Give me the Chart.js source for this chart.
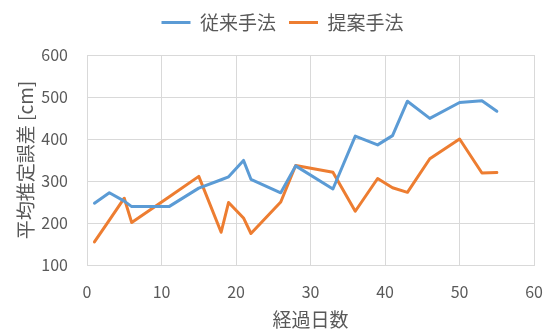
<!DOCTYPE html>
<html>
<head>
<meta charset="utf-8">
<script src="https://cdn.jsdelivr.net/npm/chart.js@4/dist/chart.umd.min.js"></script>
<style>
  html, body { margin: 0; padding: 0; background: #fff; }
  #c { display: block; }
</style>
</head>
<body>
<canvas id="c" width="560" height="329"></canvas>
<script>
// Elapsed days at which the error was measured
const days = [1, 3, 5, 6, 11, 15, 18, 19, 21, 22, 26, 28, 33, 36, 39, 41, 43, 46, 50, 53, 55];
// Mean estimation error [cm], conventional method
const conventional = [247, 272, 252, 239, 239, 283, 303, 310, 349, 304, 272, 336, 281, 407, 386, 408, 490, 449, 487, 491, 466];
// Mean estimation error [cm], proposed method
const proposed = [155, 207, 259, 201, 262, 311, 178, 249, 212, 175, 250, 337, 321, 228, 306, 284, 273, 353, 400, 319, 320];

const seriesNames = ['従来手法', '提案手法'];
const xTitle = '経過日数';
const yTitle = '平均推定誤差 [cm]';

const BLUE = '#5B9BD5';
const ORANGE = '#ED7D31';
const TEXT = '#595959';
const GRID = '#D9D9D9';
const FONT = '"Noto Sans CJK JP", "Noto Sans", sans-serif';

const toPoints = (xs, ys) => xs.map((x, i) => ({ x: x, y: ys[i] }));

// Fixed legend band height, and legend row nudged right over the plot
const legendPlacement = {
  id: 'legendPlacement',
  afterInit(chart) {
    const lg = chart.legend;
    if (!lg) return;
    const fit = lg.fit.bind(lg);
    lg.fit = function () { fit(); this.height = 55; };
  },
  afterLayout(chart) {
    const lg = chart.legend;
    if (!lg) return;
    lg.left += 11;
    lg.right += 11;
  }
};

Chart.defaults.font.family = FONT;
Chart.defaults.color = TEXT;

new Chart(document.getElementById('c'), {
  type: 'scatter',
  data: {
    datasets: [
      {
        label: seriesNames[0],
        data: toPoints(days, conventional),
        borderColor: BLUE,
        backgroundColor: BLUE,
        borderWidth: 3,
        showLine: true,
        pointRadius: 0,
        pointHoverRadius: 0,
        tension: 0,
        borderJoinStyle: 'round',
        borderCapStyle: 'round'
      },
      {
        label: seriesNames[1],
        data: toPoints(days, proposed),
        borderColor: ORANGE,
        backgroundColor: ORANGE,
        borderWidth: 3,
        showLine: true,
        pointRadius: 0,
        pointHoverRadius: 0,
        tension: 0,
        borderJoinStyle: 'round',
        borderCapStyle: 'round'
      }
    ]
  },
  options: {
    responsive: false,
    animation: false,
    devicePixelRatio: 1,
    layout: { padding: { top: 0, right: 17, bottom: 0, left: 0 } },
    plugins: {
      tooltip: { enabled: false },
      legend: {
        position: 'top',
        align: 'center',
        labels: {
          boxWidth: 29,
          boxHeight: 3,
          padding: 13,
          color: TEXT,
          font: { size: 19, family: FONT },
          generateLabels(chart) {
            return Chart.defaults.plugins.legend.labels.generateLabels(chart)
              .map(l => Object.assign({}, l, { lineWidth: 0 }));
          }
        }
      }
    },
    scales: {
      x: {
        type: 'linear',
        min: 0,
        max: 60,
        ticks: { stepSize: 10, padding: 17, color: TEXT, font: { size: 16, family: FONT } },
        grid: { color: GRID, lineWidth: 1, drawTicks: false },
        border: { color: GRID, width: 1 },
        title: {
          display: true,
          text: xTitle,
          color: TEXT,
          font: { size: 19, family: FONT, lineHeight: 1 },
          padding: { top: 0, bottom: 0 }
        },
        afterFit(scale) { scale.height = 64; }
      },
      y: {
        type: 'linear',
        min: 100,
        max: 600,
        ticks: { stepSize: 100, padding: 19, color: TEXT, font: { size: 16, family: FONT } },
        grid: { color: GRID, lineWidth: 1, drawTicks: false },
        border: { color: GRID, width: 1 },
        title: {
          display: true,
          text: yTitle,
          color: TEXT,
          font: { size: 19, family: FONT, lineHeight: 1 },
          padding: { top: 16, bottom: 0 }
        },
        afterFit(scale) { scale.width = 87; }
      }
    }
  },
  plugins: [legendPlacement]
});
</script>
</body>
</html>
